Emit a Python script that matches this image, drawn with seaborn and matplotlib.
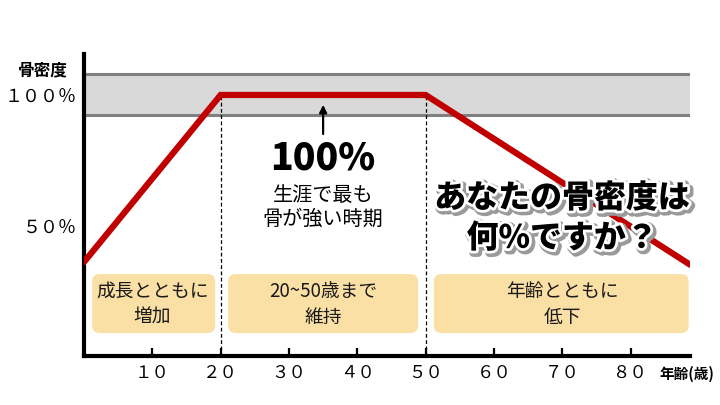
import matplotlib
matplotlib.use('Agg')
import matplotlib.pyplot as plt
import matplotlib.patheffects as pe
from matplotlib.patches import FancyBboxPatch
import seaborn as sns
import pandas as pd

# data
ages = [0, 20, 50, 88.7]
density = [36, 100, 100, 35]
peak_band = [92.3, 108]
x_ticks = [10, 20, 30, 40, 50, 60, 70, 80]
x_tick_labels = ['１０', '２０', '３０', '４０', '５０', '６０', '７０', '８０']
y_ticks = [50, 100]
y_tick_labels = ['５０％', '１００％']
phase_edges = [20, 50]
phase_labels = ['成長とともに\n増加', '20~50歳まで\n維持', '年齢とともに\n低下']
phase_centers = [10, 35, 70]

df = pd.DataFrame({'age': ages, 'density': density})

sns.set_theme(style='white')
plt.rcParams['font.family'] = ['Noto Sans CJK JP', 'DejaVu Sans']

fig = plt.figure(figsize=(7.2, 4.05), dpi=100)
ax = fig.add_axes([84 / 720, 49 / 405, 606 / 720, 302 / 405])

# gray band
ax.axhspan(peak_band[0], peak_band[1], color='#D9D9D9', zorder=0)
for yb in peak_band:
    ax.axhline(yb, color='#7F7F7F', lw=2.2, zorder=1)

# dashed separators
for xe in phase_edges:
    ax.plot([xe, xe], [0, 100], color='black', lw=0.9, ls=(0, (3, 2)), zorder=2)

# phase boxes
box_spans = [(1.2, 19.2), (21.1, 48.9), (51.2, 88.5)]
for (x0, x1), lab, xc in zip(box_spans, phase_labels, phase_centers):
    box = FancyBboxPatch((x0, 8.8), x1 - x0, 22.6,
                         boxstyle='round,pad=0,rounding_size=1.1',
                         mutation_aspect=2.62, fc='#FBE0A6', ec='none', zorder=2)
    ax.add_patch(box)
    ax.text(xc, 19.8, lab, ha='center', va='center', fontsize=13.5,
            color='#1a1a1a', linespacing=1.3, zorder=3)

sns.lineplot(data=df, x='age', y='density', color='#C00000', lw=4.5,
             ax=ax, zorder=4, solid_joinstyle='miter')

# annotation
ax.annotate('', xy=(35, 97.3), xytext=(35, 84),
            arrowprops=dict(arrowstyle='-|>', color='black', lw=1.6,
                            mutation_scale=11), zorder=5)
ax.text(35, 75.7, '100%', ha='center', va='center', fontsize=27,
        fontweight='black', color='black', zorder=5)
ax.text(35, 56.9, '生涯で最も\n骨が強い時期', ha='center', va='center',
        fontsize=14.5, color='black', linespacing=1.2, zorder=5)

q = ax.text(70, 52.9, 'あなたの骨密度は\n何%ですか？', ha='center', va='center',
            fontsize=23, fontweight='black', color='black', linespacing=1.25,
            zorder=6)
q.set_path_effects([
    pe.Stroke(linewidth=6, foreground='#9a9a9a', offset=(1.5, -1.5)),
    pe.Stroke(linewidth=4, foreground='white'),
    pe.Normal(),
])

ax.set_xlim(0, 88.7)
ax.set_ylim(0, 115.7)
ax.set_xticks(x_ticks)
ax.set_xticklabels(x_tick_labels, fontsize=12.5, color='black')
ax.set_yticks(y_ticks)
ax.set_yticklabels(y_tick_labels, fontsize=13, color='black')
ax.tick_params(axis='x', direction='in', length=6, width=1.6, color='black',
               pad=6, bottom=True)
ax.tick_params(axis='y', length=0, pad=5)
ax.set_xlabel('')
ax.set_ylabel('')
for s in ['top', 'right']:
    ax.spines[s].set_visible(False)
for s in ['left', 'bottom']:
    ax.spines[s].set_linewidth(3)
    ax.spines[s].set_color('black')

fig.text(43 / 720, 1 - 70 / 405, '骨密度', ha='center', va='center',
         fontsize=12, fontweight='bold', color='black')
fig.text(687 / 720, 1 - 374 / 405, '年齢(歳)', ha='center', va='center',
         fontsize=10.5, fontweight='bold', color='black')

fig.savefig('out.png', dpi=100)
